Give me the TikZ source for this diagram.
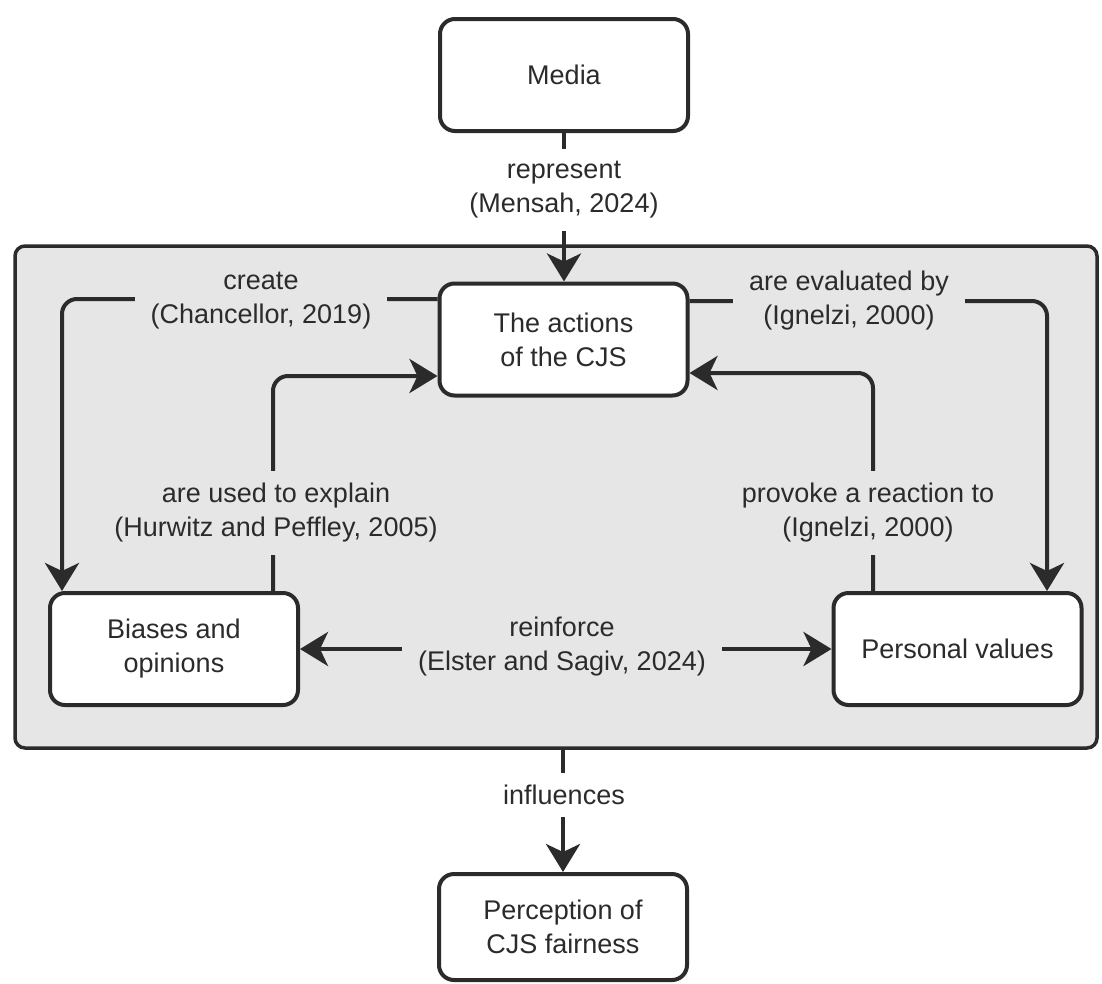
\documentclass[tikz,border=0pt]{standalone}
\usepackage{fontspec}
\setmainfont{Liberation Sans}
\usetikzlibrary{arrows.meta}
\definecolor{ink}{HTML}{2B2B2B}
\definecolor{bg}{HTML}{E6E6E6}
\begin{document}
\begin{tikzpicture}[x=1pt,y=-1pt,
  font=\fontsize{27}{34}\selectfont,
  box/.style={draw=ink, line width=4pt, fill=white, rounded corners=15pt, minimum width=248pt, minimum height=112pt, align=center, text=ink, inner sep=0pt},
  conn/.style={draw=ink, line width=4pt, rounded corners=15pt},
  tip/.style={-{Stealth[length=28pt,width=34pt,inset=8pt]}},
  tips/.style={{Stealth[length=28pt,width=34pt,inset=8pt]}-{Stealth[length=28pt,width=34pt,inset=8pt]}},
  lbl/.style={fill=bg, align=center, text=ink, inner xsep=16pt, inner ysep=12pt},
]
\useasboundingbox (0,0) rectangle (1102,983);
\fill[white] (0,0) rectangle (1102,983);
% container
\node[draw=ink, line width=3.5pt, fill=bg, rounded corners=10pt, minimum width=1082pt, minimum height=502pt, inner sep=0pt] (sys) at (556,497) {};
% boxes
\node[box] (media) at (564,75) {Media};
\node[box] (cjs) at (563.5,339.5) {The actions\\of the CJS};
\node[box] (bias) at (174,649) {Biases and\\opinions};
\node[box] (pers) at (957.5,649) {Personal values};
\node[box, minimum height=106pt] (perc) at (563,927) {Perception of\\CJS fairness};
% bend points
\coordinate (cl) at (62,299);
\coordinate (er) at (1047,301);
\coordinate (ul) at (273,376);
\coordinate (pr) at (873,373);
% connectors
\draw[conn,tip] (media.south) -- (media.south |- cjs.north);
\draw[conn,tip] (cjs.west |- cl) -- (cl) -- (cl |- bias.north);
\draw[conn,tip] (cjs.east |- er) -- (er) -- (er |- pers.north);
\draw[conn,tip] (ul |- bias.north) -- (ul) -- (ul -| cjs.west);
\draw[conn,tip] (pr |- pers.north) -- (pr) -- (pr -| cjs.east);
\draw[conn,tips] (bias.east) -- (pers.west);
\draw[conn,tip] (sys.south -| perc.north) -- (perc.north);
% labels
\node[lbl, fill=white] (rep) at (564,190) {represent\\(Mensah, 2024)};
\node[lbl] (crl) at (261,301) {create\\(Chancellor, 2019)};
\node[lbl] (evl) at (849,301) {are evaluated by\\(Ignelzi, 2000)};
\node[lbl] (usl) at (276,513) {are used to explain\\(Hurwitz and Peffley, 2005)};
\node[lbl] (prl) at (868,513) {provoke a reaction to\\(Ignelzi, 2000)};
\node[lbl] (rel) at (562,647) {reinforce\\(Elster and Sagiv, 2024)};
\node[lbl, fill=white] (inl) at (564,795) {influences};
\end{tikzpicture}
\end{document}
